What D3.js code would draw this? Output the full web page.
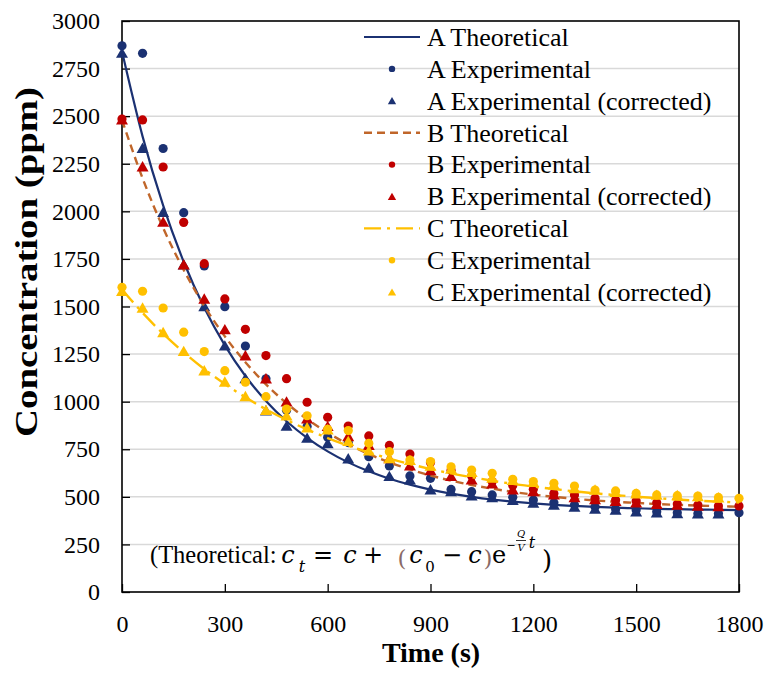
<!DOCTYPE html>
<html>
<head>
<meta charset="utf-8">
<script src="https://cdn.jsdelivr.net/npm/d3@7"></script>
<style>
  body { margin: 0; background: #fff; }
  svg { display: block; }
</style>
</head>
<body>
<div id="chart"></div>
<script>
// time axis (s)
const times = [0, 60, 120, 180, 240, 300, 360, 420, 480, 540, 600, 660, 720, 780, 840, 900,
  960, 1020, 1080, 1140, 1200, 1260, 1320, 1380, 1440, 1500, 1560, 1620, 1680, 1740, 1800];

// theoretical curves, every 60 s
const aTheory = [2840, 2394, 2031, 1735, 1493, 1296, 1135, 1004, 897, 810, 739, 681, 634, 595, 564, 538,
  517, 500, 486, 475, 466, 458, 452, 447, 443, 440, 437, 435, 433, 432, 430];
const bTheory = [2480, 2174, 1913, 1692, 1503, 1343, 1207, 1091, 992, 908, 837, 776, 725, 681, 644, 612,
  585, 562, 543, 526, 512, 500, 490, 481, 474, 468, 462, 458, 454, 451, 448];
const cTheory = [1590, 1467, 1357, 1259, 1171, 1093, 1023, 960, 904, 854, 809, 769, 733, 701, 672, 646,
  623, 603, 585, 568, 554, 541, 529, 518, 509, 501, 493, 486, 480, 475, 470];

// experimental points (0..1800 s)
const aExp = [2870, 2830, 2330, 1993, 1713, 1499, 1292, 1120, 955, 870, 813, 785, 711, 662, 610, 597,
  539, 527, 510, 498, 483, 469, 457, 448, 436, 431, 422, 417, 413, 413, 417];
const bExp = [2485, 2480, 2233, 1942, 1725, 1540, 1380, 1242, 1121, 997, 918, 872, 820, 770, 725, 680,
  640, 610, 580, 560, 540, 518, 510, 492, 483, 478, 469, 462, 457, 452, 452];
const cExp = [1601, 1580, 1492, 1365, 1263, 1163, 1102, 1026, 961, 926, 855, 848, 781, 737, 693, 685,
  658, 641, 624, 592, 580, 571, 557, 536, 531, 518, 510, 506, 504, 497, 492];

// corrected points (0..1740 s)
const aCorr = [2830, 2330, 1993, 1718, 1499, 1292, 1120, 951, 870, 807, 778, 699, 650, 606, 588, 536,
  527, 504, 495, 480, 466, 455, 445, 434, 429, 420, 415, 411, 410, 410];
const bCorr = [2480, 2233, 1942, 1718, 1538, 1377, 1240, 1119, 998, 909, 869, 816, 770, 700, 662, 637,
  606, 588, 567, 536, 527, 510, 495, 485, 475, 468, 460, 455, 450, 447];
const cCorr = [1578, 1491, 1362, 1263, 1161, 1102, 1026, 953, 925, 862, 851, 790, 740, 700, 690, 660,
  645, 628, 598, 585, 575, 562, 542, 535, 522, 514, 508, 506, 500, 494];

const xTicks = [0, 300, 600, 900, 1200, 1500, 1800];
const yTicks = [0, 250, 500, 750, 1000, 1250, 1500, 1750, 2000, 2250, 2500, 2750, 3000];

const navy = '#1b3172';
const red = '#c00000';
const brown = '#c0662a';
const gold = '#ffc000';
const serif = '"Liberation Serif", "Times New Roman", serif';
const mathFont = '"DejaVu Serif", serif';

const width = 767;
const height = 674;
const box = { left: 122, right: 739, top: 21, bottom: 592 };

const x = d3.scaleLinear().domain([0, 1800]).range([box.left, box.right]);
const y = d3.scaleLinear().domain([0, 3000]).range([box.bottom, box.top]);

const svg = d3.select('#chart').append('svg')
  .attr('width', width)
  .attr('height', height)
  .style('font-family', serif);

// gridlines
svg.append('g')
  .selectAll('line')
  .data(yTicks.filter(d => d > 0 && d < 3000))
  .enter().append('line')
  .attr('x1', box.left).attr('x2', box.right)
  .attr('y1', d => y(d)).attr('y2', d => y(d))
  .attr('stroke', '#d9d9d9')
  .attr('stroke-width', 1.5);

// axes with inside ticks
const yAxis = svg.append('g')
  .attr('transform', `translate(${box.left},0)`)
  .call(d3.axisLeft(y).tickValues(yTicks).tickFormat(d3.format('d')).tickSize(-8).tickPadding(22));
const xAxis = svg.append('g')
  .attr('transform', `translate(0,${box.bottom})`)
  .call(d3.axisBottom(x).tickValues(xTicks).tickFormat(d3.format('d')).tickSize(-8).tickPadding(23));

[yAxis, xAxis].forEach(ax => {
  ax.attr('font-family', null).attr('font-size', null);
  ax.select('.domain').remove();
  ax.selectAll('.tick line').attr('stroke', '#000').attr('stroke-width', 1.3);
  ax.selectAll('.tick text')
    .attr('fill', '#000')
    .style('font-family', serif)
    .style('font-size', '24px');
});

// frame
svg.append('rect')
  .attr('x', box.left).attr('y', box.top)
  .attr('width', box.right - box.left).attr('height', box.bottom - box.top)
  .attr('fill', 'none')
  .attr('stroke', '#000')
  .attr('stroke-width', 1.6);

const series = [
  { name: 'A Theoretical', type: 'line', values: aTheory, color: navy, dash: null, width: 2.2 },
  { name: 'A Experimental', type: 'circle', values: aExp, color: navy },
  { name: 'A Experimental (corrected)', type: 'triangle', values: aCorr, color: navy },
  { name: 'B Theoretical', type: 'line', values: bTheory, color: brown, dash: '8,5', width: 2.4 },
  { name: 'B Experimental', type: 'circle', values: bExp, color: red },
  { name: 'B Experimental (corrected)', type: 'triangle', values: bCorr, color: red },
  { name: 'C Theoretical', type: 'line', values: cTheory, color: gold, dash: '17,6,3,6', width: 2.4 },
  { name: 'C Experimental', type: 'circle', values: cExp, color: gold },
  { name: 'C Experimental (corrected)', type: 'triangle', values: cCorr, color: gold },
];

const line = d3.line()
  .x((d, i) => x(times[i]))
  .y(d => y(d))
  .curve(d3.curveMonotoneX);

const tri = d3.symbol().type(d3.symbolTriangle).size(62);
const triSmall = d3.symbol().type(d3.symbolTriangle).size(30);

const plot = svg.append('g');
series.forEach(s => {
  if (s.type === 'line') {
    plot.append('path')
      .datum(s.values)
      .attr('d', line)
      .attr('fill', 'none')
      .attr('stroke', s.color)
      .attr('stroke-width', s.width)
      .attr('stroke-dasharray', s.dash);
  } else if (s.type === 'circle') {
    plot.append('g').selectAll('circle')
      .data(s.values)
      .enter().append('circle')
      .attr('cx', (d, i) => x(times[i]))
      .attr('cy', d => y(d))
      .attr('r', 4.6)
      .attr('fill', s.color);
  } else {
    plot.append('g').selectAll('path')
      .data(s.values)
      .enter().append('path')
      .attr('d', tri)
      .attr('transform', (d, i) => `translate(${x(times[i])},${y(d) + 1})`)
      .attr('fill', s.color);
  }
});

// legend
const legend = svg.append('g').attr('transform', 'translate(364,37)');
const rows = legend.selectAll('.legend')
  .data(series)
  .enter().append('g')
  .attr('class', 'legend')
  .attr('transform', (d, i) => `translate(0,${i * 31.9})`);

rows.each(function (s) {
  const g = d3.select(this);
  if (s.type === 'line') {
    g.append('line')
      .attr('x1', 0).attr('x2', 56)
      .attr('stroke', s.color)
      .attr('stroke-width', s.width)
      .attr('stroke-dasharray', s.dash);
  } else if (s.type === 'circle') {
    g.append('circle').attr('cx', 28).attr('r', 3.2).attr('fill', s.color);
  } else {
    g.append('path').attr('d', triSmall).attr('transform', 'translate(28,1)').attr('fill', s.color);
  }
  g.append('text')
    .attr('x', 63)
    .attr('dy', '0.34em')
    .style('font-size', '26px')
    .text(s.name);
});

// axis titles
svg.append('text')
  .attr('x', 431).attr('y', 662)
  .attr('text-anchor', 'middle')
  .style('font-size', '28px')
  .style('font-weight', 'bold')
  .text('Time (s)');

svg.append('text')
  .attr('transform', 'translate(37,262) rotate(-90)')
  .attr('text-anchor', 'middle')
  .attr('textLength', 350)
  .attr('lengthAdjust', 'spacingAndGlyphs')
  .style('font-size', '31px')
  .style('font-weight', 'bold')
  .text('Concentration (ppm)');

// formula
const f = svg.append('g');
const put = (cx, by, str, opts = {}) => {
  const t = f.append('text')
    .attr('x', cx).attr('y', by)
    .attr('text-anchor', opts.anchor || 'middle')
    .style('font-family', opts.font || mathFont)
    .style('font-size', (opts.size || 24) + 'px')
    .attr('fill', opts.color || '#000')
    .text(str);
  if (opts.italic) t.style('font-style', 'italic');
  return t;
};
put(150, 563, '(Theoretical:', { font: serif, size: 24.5, anchor: 'start' });
put(288, 563, 'c', { italic: true });
put(302, 572, 't', { italic: true, size: 16 });
put(323, 563, '=');
put(350, 563, 'c', { italic: true });
put(373, 563, '+');
put(402, 566, '(', { size: 23, color: '#8a6a66' });
put(416, 563, 'c', { italic: true });
put(430, 572, '0', { size: 15 });
put(452, 563, '\u2212');
put(475, 563, 'c', { italic: true });
put(488, 566, ')', { size: 23, color: '#8a6a66' });
put(499, 563, 'e');
put(511, 549, '\u2212', { size: 11 });
put(521, 537, 'Q', { italic: true, size: 10 });
f.append('line').attr('x1', 516).attr('x2', 526).attr('y1', 540.5).attr('y2', 540.5)
  .attr('stroke', '#000').attr('stroke-width', 0.8);
put(521, 551, 'V', { italic: true, size: 10 });
put(532, 548, 't', { italic: true, size: 16 });
put(547, 569, ')', { size: 26 });
</script>
</body>
</html>
